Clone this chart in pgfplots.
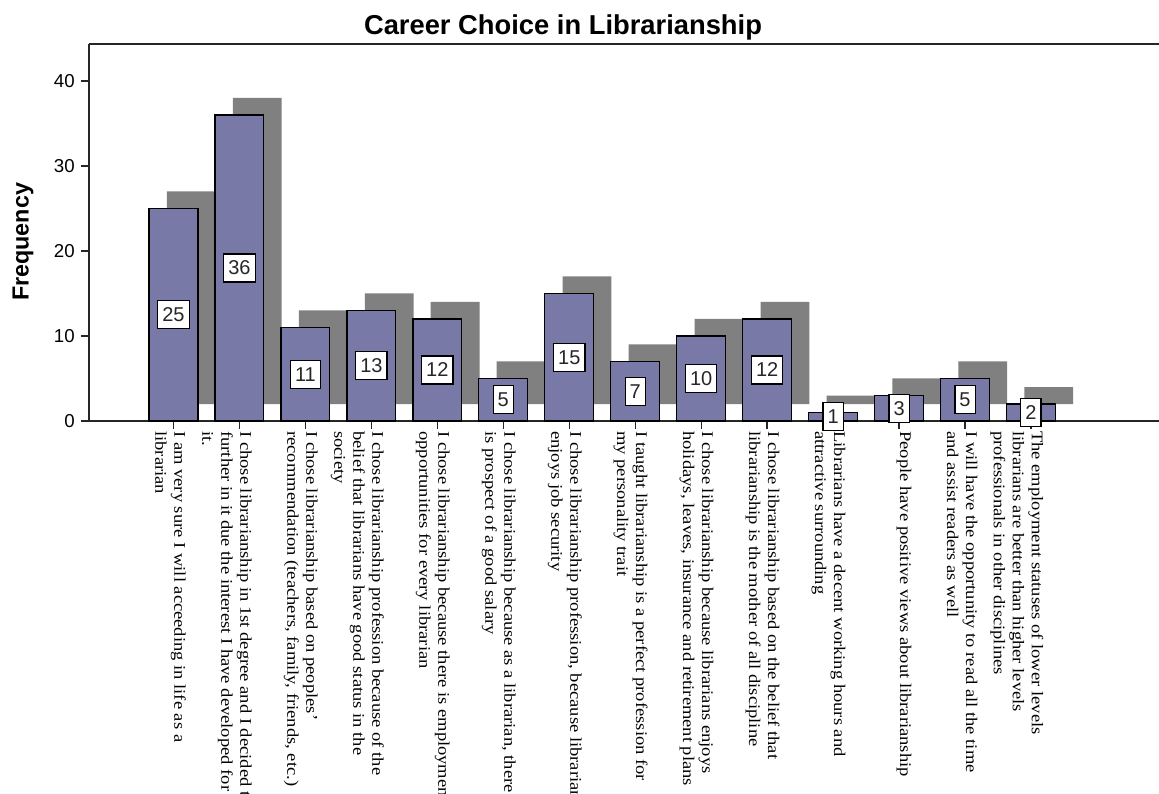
\documentclass[border=0pt]{standalone}
\usepackage{pgfplots}
\pgfplotsset{compat=1.18}
\usepackage{fontspec}
\setmainfont{Liberation Sans}
\newfontfamily\labfont[FakeStretch=1.14]{Liberation Serif}
\definecolor{barc}{RGB}{121,121,168}
\definecolor{shadc}{RGB}{128,128,128}
\newcommand\onel[1]{\vtop{\hbox{#1}}}
\newcommand\twol[2]{\vtop{\hbox{#1}\hbox{#2}}}
\newcommand\threel[3]{\vtop{\hbox{#1}\hbox{#2}\hbox{#3}}}
\pgfplotsset{myaxis/.style={scale only axis, width=802.5pt, height=282.75pt,
  xmin=-1.281, xmax=14.941, ymin=0, ymax=44.35}}
\begin{document}
\begin{tikzpicture}
\useasboundingbox (-66.75pt,-279pt) rectangle (802.5pt,315.75pt);
\clip (-66.75pt,-279pt) rectangle (802.5pt,315.75pt);
% shadows
\begin{axis}[myaxis, hide axis, ybar stacked, bar width=0.74]
\addplot[draw=none, fill=none, bar shift=0.27] coordinates {(0,2) (1,2) (2,2) (3,2) (4,2) (5,2) (6,2) (7,2) (8,2) (9,2) (10,2) (11,2) (12,2) (13,2)};
\addplot[draw=none, fill=shadc, bar shift=0.27] coordinates {(0,25) (1,36) (2,11) (3,13) (4,12) (5,5) (6,15) (7,7) (8,10) (9,12) (10,1) (11,3) (12,5) (13,2)};
\end{axis}
% main
\begin{axis}[myaxis, clip=false,
  axis lines=left, axis line style={-, line width=1pt, black!85},
  tick align=outside, major tick length=6pt, tick style={line width=1pt, black!85},
  ytick={0,10,20,30,40},
  xtick={0,...,13},
  /pgf/number format/assume math mode=true,
  yticklabel style={inner sep=0pt, xshift=-4.5pt, font=\fontsize{14}{16}\selectfont},
  xticklabel style={inner sep=0pt, xshift=0.75pt, yshift=-1.5pt, rotate=-90, anchor=base west, font=\labfont\fontsize{12.2}{14.25}\selectfont},
  xticklabels={
    {\twol{I am very sure I will acceeding in life as a}{librarian}},
    {\threel{I chose librarianship in 1st degree and I decided to}{further in it due the interest I have developed for}{it.}},
    {\twol{I chose librarianship  based on peoples’}{recommendation (teachers, family, friends, etc.)}},
    {\threel{I chose librarianship  profession because of the}{belief that librarians have good status in the}{society}},
    {\twol{I chose librarianship because there is employment}{opportunities for every librarian}},
    {\twol{I chose librarianship because as a librarian, there}{is prospect of a good salary}},
    {\twol{I chose librarianship profession, because librarians}{enjoys job security}},
    {\twol{I taught librarianship is a perfect profession for}{my personality trait}},
    {\twol{I chose librarianship because librarians enjoys}{holidays, leaves, insurance and retirement plans}},
    {\twol{I chose librarianship based on the belief that}{librarianship is the mother of all discipline}},
    {\twol{Librarians have a decent working hours and}{attractive surrounding}},
    {\onel{People have positive views about librarianship}},
    {\twol{I will have the opportunity to read all the time}{and assist readers as well}},
    {\threel{The employment statuses of lower levels}{librarians are better than higher levels}{professionals in other disciplines}}
  },
  title={Career Choice in Librarianship},
  title style={font=\bfseries\fontsize{20.5}{23}\selectfont, at={(axis description cs:0.443,1)}, anchor=base, yshift=1.5pt},
  ylabel={Frequency},
  every axis y label/.style={at={(axis description cs:0,0.475)}, xshift=-49.5pt, rotate=90, anchor=center, font=\bfseries\fontsize{17.5}{20}\selectfont},
  after end axis/.code={\draw[line width=1pt, black!85] (axis description cs:0,1) -- (axis description cs:1,1);}
]
\addplot[ybar, bar width=0.74, bar shift=0pt, fill=barc, draw=black, line width=0.9pt] coordinates {(0,25) (1,36) (2,11) (3,13) (4,12) (5,5) (6,15) (7,7) (8,10) (9,12) (10,1) (11,3) (12,5) (13,2)};
\addplot[draw=none, mark=none, point meta=explicit symbolic, nodes near coords, nodes near coords align={center},
  every node near coord/.append style={draw=black, line width=0.9pt, fill=white, inner xsep=3.4pt, inner ysep=0pt, minimum height=21pt, font=\fontsize{15}{17}\selectfont, text=black!85}]
  coordinates {(0,12.5) [25] (1,18) [36] (2,5.5) [11] (3,6.5) [13] (4,6) [12] (5,2.5) [5] (6,7.5) [15] (7,3.5) [7] (8,5) [10] (9,6) [12] (10,0.5) [1] (11,1.5) [3] (12,2.5) [5] (13,1) [2]};
\end{axis}
\end{tikzpicture}
\end{document}
